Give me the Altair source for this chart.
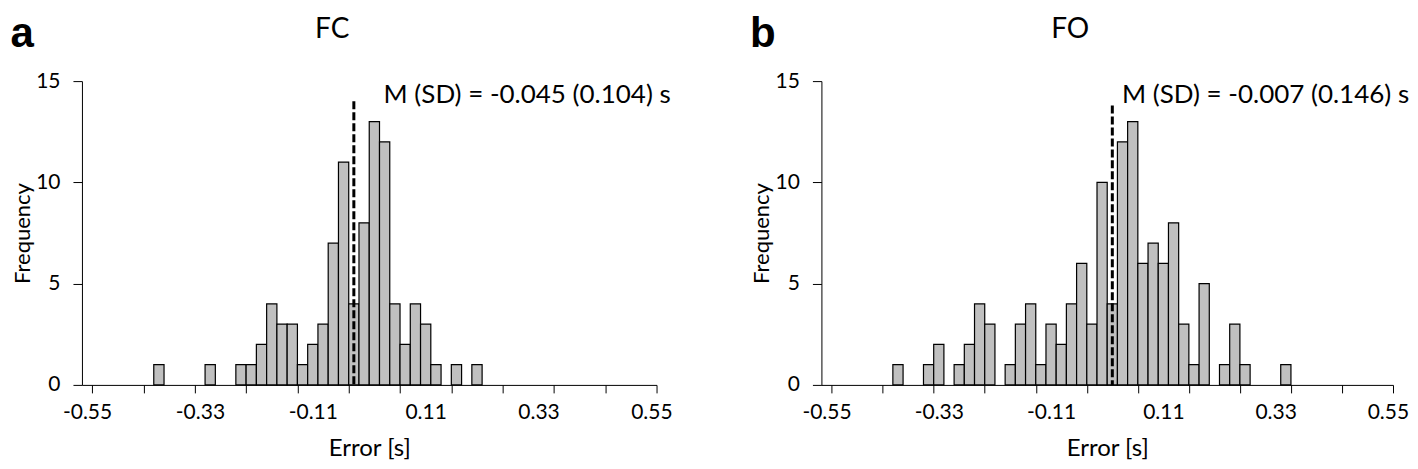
import altair as alt
import pandas as pd

# ---- data ----
# histogram bins: category labels from -0.55 to 0.55 in steps of 0.02 (56 bins)
bin_labels = [round(-0.55 + 0.02 * k, 2) for k in range(56)]
half_bin = 0.01

fc_counts = [0, 0, 0, 0, 0,  0, 0, 1, 0, 0,  0, 0, 1, 0, 0,
             1, 1, 2, 4, 3,  3, 1, 2, 3, 7,  11, 4, 8, 13, 12,
             4, 2, 4, 3, 1,  0, 1, 0, 1, 0,  0, 0, 0, 0, 0,
             0, 0, 0, 0, 0,  0, 0, 0, 0, 0,  0]
fo_counts = [0, 0, 0, 0, 0,  0, 0, 1, 0, 0,  1, 2, 0, 1, 2,
             4, 3, 0, 1, 3,  4, 1, 3, 2, 4,  6, 3, 10, 4, 12,
             13, 6, 7, 6, 8,  3, 1, 5, 0, 1,  3, 1, 0, 0, 0,
             1, 0, 0, 0, 0,  0, 0, 0, 0, 0,  0]

x_label_values = [-0.55, -0.33, -0.11, 0.11, 0.33, 0.55]
x_tick_values = [-0.54, -0.44, -0.34, -0.24, -0.14, -0.04, 0.06, 0.16, 0.26, 0.36, 0.46, 0.56]
y_tick_values = [0, 5, 10, 15]

panel_titles = ["FC", "FO"]
panel_letters = ["a", "b"]
mean_line_x = [-0.03, 0.01]      # bin in which the mean falls
mean_line_top = [14.0, 13.8]
notes = ["M (SD) = -0.045 (0.104) s", "M (SD) = -0.007 (0.146) s"]
note_x = [0.028, 0.029]
note_y = [13.9, 13.9]

FONT = "Lato"
BAR_FILL = "#c0c0c0"
PLOT_H = 304


def panel(counts, title, letter, mx, mtop, note, nx, ny, w):
    df = pd.DataFrame({"center": bin_labels, "count": counts})
    df = df[df["count"] > 0].copy()
    df["lo"] = df["center"] - half_bin
    df["hi"] = df["center"] + half_bin
    df["base"] = 0

    xs = alt.Scale(domain=[-0.56, 0.56], nice=False, zero=False)
    ys = alt.Scale(domain=[0, 15], nice=False, zero=True)

    bars = alt.Chart(df).mark_bar(
        fill=BAR_FILL, stroke="black", strokeWidth=1.2
    ).encode(
        x=alt.X("lo:Q", scale=xs, axis=alt.Axis(
            orient="bottom", values=x_label_values,
            labelExpr="replace(format(datum.value, '.2f'), '\u2212', '-')",
            ticks=False, grid=False, domain=True, domainColor="black", domainWidth=1,
            labelFont=FONT, labelFontSize=21, labelColor="black", labelPadding=17,
            labelFlush=False, labelOverlap=False,
            title="Error [s]", titleFont=FONT, titleFontSize=24,
            titleFontWeight="normal", titleColor="black", titlePadding=14)),
        x2="hi:Q",
        y=alt.Y("count:Q", scale=ys, axis=alt.Axis(
            values=y_tick_values, ticks=True, tickSize=9, tickColor="black",
            domainColor="black", domainWidth=1, grid=False,
            labelFont=FONT, labelFontSize=21, labelColor="black", labelPadding=13,
            title="Frequency", titleFont=FONT, titleFontSize=22,
            titleFontWeight="normal", titleColor="black", titlePadding=1.5)),
        y2="base:Q",
    )

    mdf = pd.DataFrame({"lo": [mx], "count": [mtop], "base": [0]})
    mean_rule = alt.Chart(mdf).mark_rule(
        color="black", strokeWidth=3, strokeDash=[8, 3]
    ).encode(
        x=alt.X("lo:Q", scale=xs, axis=alt.Axis(
            orient="bottom", values=x_tick_values, labels=False, domain=False,
            ticks=True, tickSize=8, tickColor="black", tickWidth=1,
            grid=False, title=None)),
        y=alt.Y("count:Q", scale=ys),
        y2="base:Q",
    )

    ndf = pd.DataFrame({"lo": [nx], "count": [ny], "t": [note]})
    note_mark = alt.Chart(ndf).mark_text(
        align="left", baseline="alphabetic", font=FONT, fontSize=26, color="black"
    ).encode(
        x=alt.X("lo:Q", scale=xs, axis=None),
        y=alt.Y("count:Q", scale=ys),
        text="t:N",
    )

    ldf = pd.DataFrame({"t": [letter]})
    letter_mark = alt.Chart(ldf).mark_text(
        align="left", baseline="alphabetic", font="Liberation Sans",
        fontSize=42, fontWeight="bold", color="black"
    ).encode(
        x=alt.value(-71.5), y=alt.value(-34), text="t:N"
    )

    tdf = pd.DataFrame({"t": [title]})
    title_mark = alt.Chart(tdf).mark_text(
        align="center", baseline="alphabetic", font=FONT,
        fontSize=28, color="black"
    ).encode(
        x=alt.value(w / 2 - 37), y=alt.value(-43), text="t:N"
    )

    return alt.layer(bars, mean_rule, note_mark, letter_mark, title_mark).resolve_axis(
        x="independent"
    ).properties(width=w, height=PLOT_H)


pa = panel(fc_counts, panel_titles[0], panel_letters[0], mean_line_x[0], mean_line_top[0],
           notes[0], note_x[0], note_y[0], 575)
pb = panel(fo_counts, panel_titles[1], panel_letters[1], mean_line_x[1], mean_line_top[1],
           notes[1], note_x[1], note_y[1], 572)

chart = alt.hconcat(pa, pb, spacing=165, bounds="flush").properties(
    padding={"left": 2, "top": 5, "right": 0, "bottom": 0}
).configure_view(stroke=None)

chart.save("out.html", embed_options={"renderer": "svg", "actions": False})
